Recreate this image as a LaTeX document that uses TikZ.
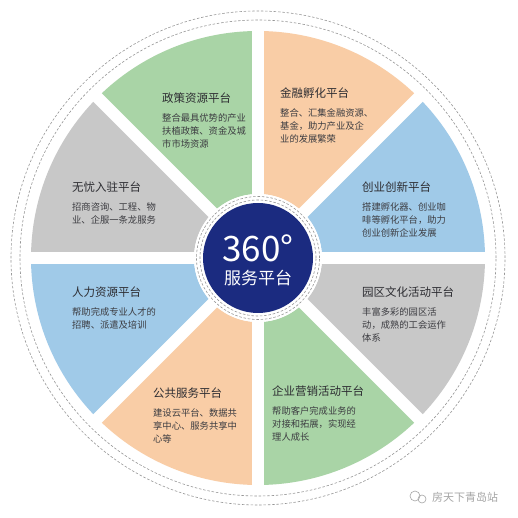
\documentclass[tikz,border=0pt]{standalone}
\usepackage{fontspec}
\setmainfont{Noto Sans CJK SC}
\usepackage{xcolor}
\usetikzlibrary{positioning}
\definecolor{secGreen}{RGB}{169,212,166}
\definecolor{secPeach}{RGB}{249,205,166}
\definecolor{secBlue}{RGB}{160,202,232}
\definecolor{secGray}{RGB}{200,200,200}
\definecolor{coreNavy}{RGB}{27,43,128}
\definecolor{ringGray}{RGB}{150,150,150}
\definecolor{txtDark}{RGB}{45,45,50}
\definecolor{txtBody}{RGB}{60,60,65}
\definecolor{markGray}{RGB}{165,165,165}
\tikzset{
  secTitle/.style={anchor=west,inner sep=0pt,text=txtDark,font=\fontsize{11.5pt}{14pt}\selectfont},
  secBody/.style={inner sep=0pt,align=left,text=txtBody,font=\fontsize{9.3pt}{13pt}\selectfont},
  ringDash/.style={ringGray,line width=0.6pt,dash pattern=on 2.5pt off 1.8pt}
}

\begin{document}
\begin{tikzpicture}[x=1pt,y=1pt]
  \useasboundingbox (-258,-260) rectangle (260,258);
  \fill[white] (-258,-260) rectangle (260,258);

  % outer dashed rings
  \draw[ringDash] (0,0) circle (238);
  \draw[ringDash] (0,0) circle (247);

  % sectors
  \fill[secBlue] (0:64) -- (0:227) arc[start angle=0,end angle=45,radius=227]
    -- (45:64) arc[start angle=45,end angle=0,radius=64] -- cycle;
  \fill[secPeach] (45:64) -- (45:227) arc[start angle=45,end angle=90,radius=227]
    -- (90:64) arc[start angle=90,end angle=45,radius=64] -- cycle;
  \fill[secGreen] (90:64) -- (90:227) arc[start angle=90,end angle=135,radius=227]
    -- (135:64) arc[start angle=135,end angle=90,radius=64] -- cycle;
  \fill[secGray] (135:64) -- (135:227) arc[start angle=135,end angle=180,radius=227]
    -- (180:64) arc[start angle=180,end angle=135,radius=64] -- cycle;
  \fill[secBlue] (180:64) -- (180:227) arc[start angle=180,end angle=225,radius=227]
    -- (225:64) arc[start angle=225,end angle=180,radius=64] -- cycle;
  \fill[secPeach] (225:64) -- (225:227) arc[start angle=225,end angle=270,radius=227]
    -- (270:64) arc[start angle=270,end angle=225,radius=64] -- cycle;
  \fill[secGreen] (270:64) -- (270:227) arc[start angle=270,end angle=315,radius=227]
    -- (315:64) arc[start angle=315,end angle=270,radius=64] -- cycle;
  \fill[secGray] (315:64) -- (315:227) arc[start angle=315,end angle=360,radius=227]
    -- (360:64) arc[start angle=360,end angle=315,radius=64] -- cycle;

  % white gaps
  \draw[white,line width=12pt] (0:232) -- (180:232);
  \draw[white,line width=12pt] (45:232) -- (225:232);
  \draw[white,line width=12pt] (90:232) -- (270:232);
  \draw[white,line width=12pt] (135:232) -- (315:232);

  % core
  \fill[white] (0,0) circle (64);
  \draw[ringDash] (0,0) circle (58);
  \draw[ringDash] (0,0) circle (61.5);
  \fill[coreNavy] (0,0) circle (55);
  \node[text=white,inner sep=0pt,font=\fontsize{35pt}{37pt}\selectfont] (coreNum) at (0,10) {360°};
  \node[text=white,inner sep=0pt,font=\fontsize{17pt}{19pt}\selectfont] (coreTxt) at (0,-20) {服务平台};

  % sector texts
  \node[secTitle] (policyT) at (-96,160) {政策资源平台};
  \node[secBody,below right=9.5pt and 0pt of policyT.south west] (policyB)
    {整合最具优势的产业\\扶植政策、资金及城\\市市场资源};

  \node[secTitle] (financeT) at (22,165) {金融孵化平台};
  \node[secBody,below right=9.5pt and 0pt of financeT.south west] (financeB)
    {整合、汇集金融资源、\\基金，助力产业及企\\业的发展繁荣};

  \node[secTitle] (settleT) at (-186,71) {无忧入驻平台};
  \node[secBody,below right=9.5pt and 0pt of settleT.south west] (settleB)
    {招商咨询、工程、物\\业、企服一条龙服务};

  \node[secTitle] (startupT) at (104,71) {创业创新平台};
  \node[secBody,below right=9.5pt and 0pt of startupT.south west] (startupB)
    {搭建孵化器、创业咖\\啡等孵化平台，助力\\创业创新企业发展};

  \node[secTitle] (talentT) at (-186,-34) {人力资源平台};
  \node[secBody,below right=9.5pt and 0pt of talentT.south west] (talentB)
    {帮助完成专业人才的\\招聘、派遣及培训};

  \node[secTitle] (cultureT) at (104,-34) {园区文化活动平台};
  \node[secBody,below right=9.5pt and 0pt of cultureT.south west] (cultureB)
    {丰富多彩的园区活\\动，成熟的工会运作\\体系};

  \node[secTitle] (publicT) at (-105,-135) {公共服务平台};
  \node[secBody,below right=9.5pt and 0pt of publicT.south west] (publicB)
    {建设云平台、数据共\\享中心、服务共享中\\心等};

  \node[secTitle] (marketT) at (14,-133) {企业营销活动平台};
  \node[secBody,below right=9.5pt and 0pt of marketT.south west] (marketB)
    {帮助客户完成业务的\\对接和拓展，实现经\\理人成长};

  % watermark
  \draw[markGray,line width=0.6pt] (157,-238) circle (5);
  \draw[markGray,line width=0.6pt] (164,-241) circle (4);
  \node[anchor=west,inner sep=0pt,text=markGray,font=\fontsize{11pt}{13pt}\selectfont]
    (markTxt) at (174,-239) {房天下青岛站};
\end{tikzpicture}
\end{document}
